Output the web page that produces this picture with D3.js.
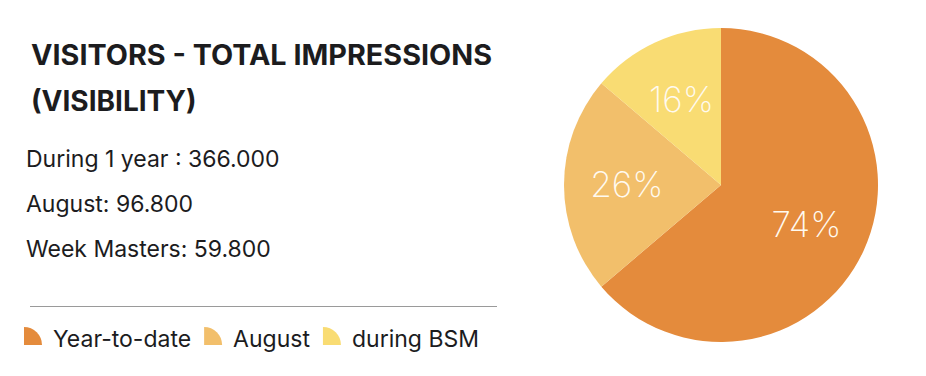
<!DOCTYPE html>
<html>
<head>
<meta charset="utf-8">
<script src="https://cdn.jsdelivr.net/npm/d3@7"></script>
<style>
  body { margin: 0; background: #fff; }
  svg { display: block; }
</style>
</head>
<body>
<div id="chart"></div>
<script>
// values
const titleLines = ["VISITORS - TOTAL IMPRESSIONS", "(VISIBILITY)"];
const statNames = ["During 1 year : ", "August: ", "Week Masters: "];
const statValues = ["366.000", "96.800", "59.800"];
const categories = ["Year-to-date", "August", "during BSM"];
const shares = [74, 26, 16];
const colors = ["#e48b3c", "#f2bf6b", "#f9dc73"];

const width = 926, height = 376;

const svg = d3.select("#chart").append("svg")
    .attr("width", width)
    .attr("height", height);

// title
const title = svg.append("g")
    .attr("font-family", "Inter, 'Noto Sans', sans-serif")
    .attr("font-weight", 700)
    .attr("font-size", 28)
    .attr("fill", "#1c1c1e");

title.selectAll("text")
  .data(titleLines)
  .join("text")
    .attr("x", 31)
    .attr("y", (d, i) => 65 + i * 46)
    .text(d => d);

// fit first title line to the reference width
title.select("text").attr("textLength", 461).attr("lengthAdjust", "spacingAndGlyphs");

// stat lines
svg.append("g")
    .attr("font-family", "Inter, 'Noto Sans', sans-serif")
    .attr("font-size", 23)
    .attr("fill", "#1c1c1e")
  .selectAll("text")
  .data(statNames)
  .join("text")
    .attr("x", 26)
    .attr("y", (d, i) => 167 + i * 45)
    .text((d, i) => d + statValues[i]);

// separator
svg.append("line")
    .attr("x1", 30).attr("x2", 497)
    .attr("y1", 306.5).attr("y2", 306.5)
    .attr("stroke", "#9a9a9a")
    .attr("stroke-width", 1);

// legend
const color = d3.scaleOrdinal().domain(categories).range(colors);
const legendIcon = d3.arc().innerRadius(0).outerRadius(18).startAngle(0).endAngle(Math.PI / 2);

const legend = svg.append("g")
    .attr("font-family", "Inter, 'Noto Sans', sans-serif")
    .attr("font-size", 23)
    .attr("fill", "#1c1c1e");

let lx = 24;
categories.forEach(c => {
  const item = legend.append("g").attr("transform", `translate(${lx},345)`);
  item.append("path").attr("d", legendIcon()).attr("fill", color(c));
  const t = item.append("text").attr("x", 29).attr("y", 1.5).text(c);
  lx += 29 + t.node().getComputedTextLength() + 13;
});

// pie
const radius = 157;
const pie = d3.pie().sort(null).value(d => d);
const arc = d3.arc().innerRadius(0).outerRadius(radius);
const labelArc = d3.arc().innerRadius(radius * 0.6).outerRadius(radius * 0.6);

const pieG = svg.append("g").attr("transform", "translate(721,185)");

const slices = pie(shares);

pieG.selectAll("path")
  .data(slices)
  .join("path")
    .attr("d", arc)
    .attr("fill", (d, i) => color(categories[i]));

pieG.selectAll("text")
  .data(slices)
  .join("text")
    .attr("transform", d => `translate(${labelArc.centroid(d)})`)
    .attr("text-anchor", "middle")
    .attr("dy", "0.35em")
    .attr("font-family", "Inter, 'Noto Sans', sans-serif")
    .attr("font-weight", 200)
    .attr("font-size", 35)
    .attr("fill", "#fffaf0")
    .text(d => d.data + "%");
</script>
</body>
</html>
